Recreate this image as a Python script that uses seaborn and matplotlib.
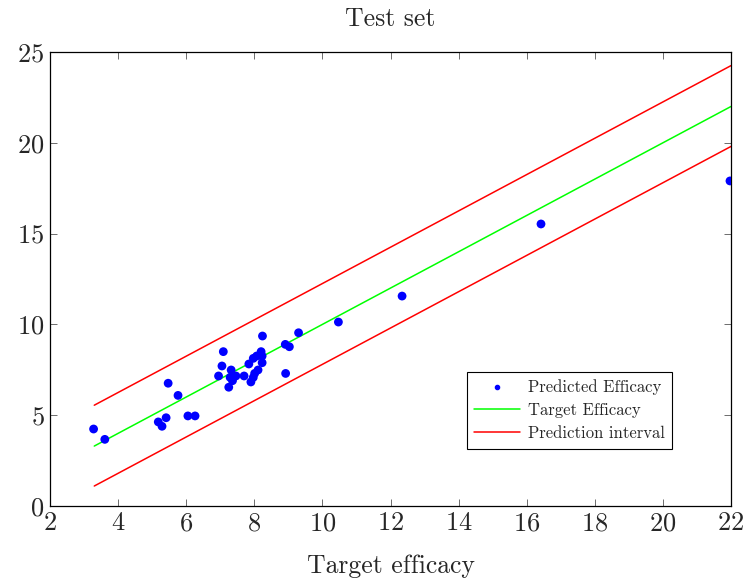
import matplotlib
matplotlib.use("Agg")
import matplotlib.pyplot as plt
import seaborn as sns
from matplotlib.lines import Line2D

target = [3.28, 3.61, 5.18, 5.29, 5.41, 5.47, 5.76, 6.05, 6.26, 6.95, 7.05, 7.09,
          7.25, 7.32, 7.29, 7.36, 7.46, 7.70, 7.84, 7.90, 7.97, 8.01, 7.97, 8.07,
          8.11, 8.20, 8.23, 8.23, 8.24, 8.91, 9.03, 8.92, 9.30, 10.47, 12.34, 16.42, 21.97]
predicted = [4.24, 3.67, 4.63, 4.39, 4.86, 6.76, 6.09, 4.96, 4.96, 7.16, 7.71, 8.50,
             6.54, 7.49, 7.08, 6.90, 7.16, 7.16, 7.82, 6.83, 7.08, 7.30, 8.13, 8.26,
             7.49, 8.50, 8.26, 7.89, 9.36, 8.90, 8.77, 7.30, 9.54, 10.13, 11.56, 15.53, 17.90]

line_x = [3.3, 22.0]
line_target = [3.3, 22.0]
line_upper = [5.55, 24.25]
line_lower = [1.1, 19.8]

x_ticks = [2, 4, 6, 8, 10, 12, 14, 16, 18, 20, 22]
y_ticks = [0, 5, 10, 15, 20, 25]

sns.set_style("ticks")
plt.rcParams['font.family'] = 'serif'
plt.rcParams['font.serif'] = ['cmr10', 'DejaVu Serif']
plt.rcParams['axes.formatter.use_mathtext'] = True
plt.rcParams['mathtext.fontset'] = 'cm'

fig = plt.figure(figsize=(7.45, 5.8), dpi=100)
ax = fig.add_axes([50/745, 1-506/580, 681/745, 454/580])

sns.lineplot(x=line_x, y=line_target, color='#00ff00', lw=1.1, ax=ax)
sns.lineplot(x=line_x, y=line_upper, color='#ff0000', lw=1.1, ax=ax)
sns.lineplot(x=line_x, y=line_lower, color='#ff0000', lw=1.1, ax=ax)
sns.scatterplot(x=target, y=predicted, color='#0000ff', s=40, edgecolor='none', ax=ax, zorder=3)

ax.set_xlim(2, 22)
ax.set_ylim(0, 25)
ax.set_xticks(x_ticks)
ax.set_yticks(y_ticks)
ax.tick_params(direction='in', top=True, right=True, labelsize=19, length=5, width=0.6,
               color='#555555', pad=4)
for s in ax.spines.values():
    s.set_linewidth(0.9)
    s.set_color('black')

ax.set_title('Test set', fontsize=18.5, pad=18.5)
ax.set_xlabel('Target efficacy', fontsize=18.5, labelpad=14)
ax.set_ylabel('')

handles = [
    Line2D([], [], marker='o', linestyle='none', color='#0000ff', markersize=3),
    Line2D([], [], color='#00ff00', lw=1.1),
    Line2D([], [], color='#ff0000', lw=1.1),
]
labels = ['Predicted Efficacy', 'Target Efficacy', 'Prediction interval']
leg = ax.legend(handles, labels, loc='upper left', bbox_to_anchor=(0.612, 0.295),
                fontsize=12, frameon=True, fancybox=False, edgecolor='black',
                framealpha=1, borderpad=0.45, labelspacing=0.45, handlelength=2.75,
                handletextpad=0.45, borderaxespad=0)
leg.get_frame().set_linewidth(0.8)

fig.savefig('out.png', dpi=100)
